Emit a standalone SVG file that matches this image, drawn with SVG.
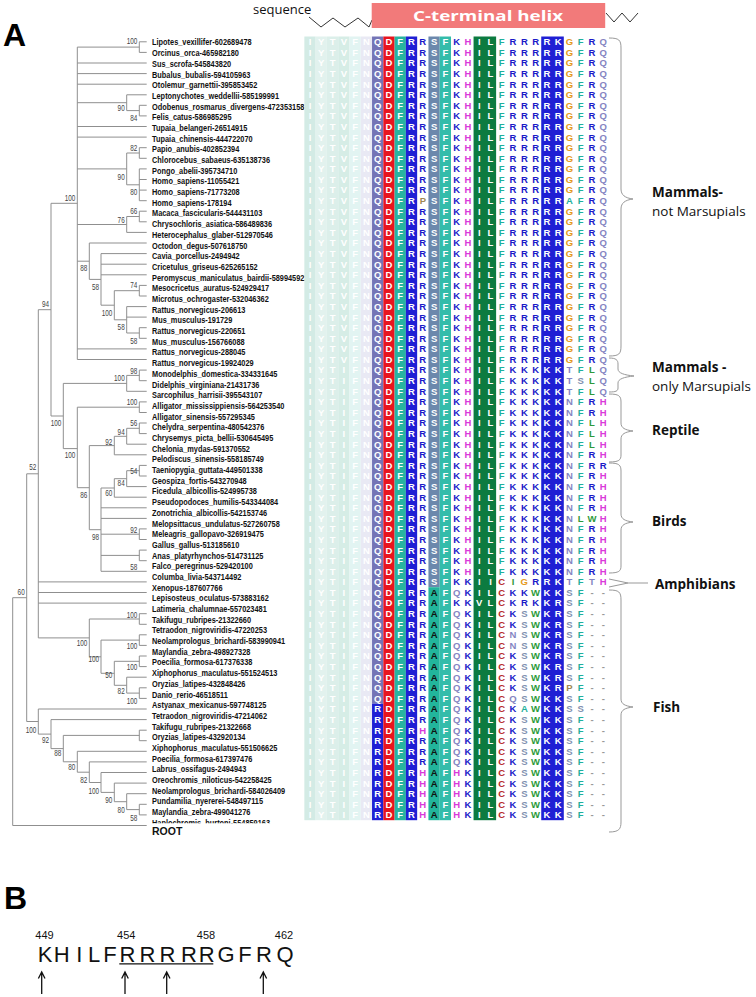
<svg xmlns="http://www.w3.org/2000/svg" width="756" height="997" viewBox="0 0 756 997">
<style>
.lf{font-family:"Liberation Sans",Arial,sans-serif;font-weight:bold;font-size:9px;fill:#111}
.bs{font-family:"Liberation Sans",Arial,sans-serif;font-size:8.5px;fill:#444;text-anchor:end}
.aa{font-family:"Liberation Sans",Arial,sans-serif;font-weight:bold;font-size:9.5px;text-anchor:middle}
.w{fill:#fff}.bl{fill:#1a1ac8}.tl{fill:#1fb09c}.mg{fill:#d93ad9}.og{fill:#e59a1c}.sl{fill:#8585c2}.sg{fill:#7f90b0}.gr{fill:#2e9a3a}.rd{fill:#b52a2a}.br{fill:#a08850}.gy{fill:#999}.bk{fill:#111}
.br2{fill:none;stroke:#999;stroke-width:1}
.gl{font-family:"Open Sans","Liberation Sans",sans-serif;font-size:13.5px;fill:#111}
.tree{fill:none;stroke:#8f8f8f;stroke-width:1}
</style>
<defs>
<clipPath id="clipH"><rect x="0" y="0" width="756" height="823.3"/></clipPath>
<text id="T1" class="aa" x="310 321.28 332.56 343.84 355.12 366.4 377.68 388.96 400.24 411.52 422.8 434.08 445.36 456.64 467.92 479.2 490.48 501.76 513.04 524.32 535.6 546.88 558.16 569.44 580.72 592 603.28"><tspan class="w">IYTVFNQDFR</tspan><tspan class="bl">R</tspan><tspan class="w">SF</tspan><tspan class="bl">K</tspan><tspan class="mg">H</tspan><tspan class="w">IL</tspan><tspan class="tl">F</tspan><tspan class="bl">RRR</tspan><tspan class="w">RK</tspan><tspan class="og">G</tspan><tspan class="tl">F</tspan><tspan class="bl">R</tspan><tspan class="sl">Q</tspan></text>
<text id="TM" class="aa" x="310 321.28 332.56 343.84 355.12 366.4 377.68 388.96 400.24 411.52 422.8 434.08 445.36 456.64 467.92 479.2 490.48 501.76 513.04 524.32 535.6 546.88 558.16 569.44 580.72 592 603.28"><tspan class="w">IYTVFNQDFR</tspan><tspan class="bl">R</tspan><tspan class="w">SF</tspan><tspan class="bl">K</tspan><tspan class="mg">H</tspan><tspan class="w">IL</tspan><tspan class="tl">F</tspan><tspan class="bl">RRR</tspan><tspan class="w">RR</tspan><tspan class="og">G</tspan><tspan class="tl">F</tspan><tspan class="bl">R</tspan><tspan class="sl">Q</tspan></text>
<text id="T16" class="aa" x="310 321.28 332.56 343.84 355.12 366.4 377.68 388.96 400.24 411.52 422.8 434.08 445.36 456.64 467.92 479.2 490.48 501.76 513.04 524.32 535.6 546.88 558.16 569.44 580.72 592 603.28"><tspan class="w">IYTVFNQDFR</tspan><tspan class="br">P</tspan><tspan class="w">SF</tspan><tspan class="bl">K</tspan><tspan class="mg">H</tspan><tspan class="w">IL</tspan><tspan class="tl">F</tspan><tspan class="bl">RRR</tspan><tspan class="w">RR</tspan><tspan class="tl">AF</tspan><tspan class="bl">R</tspan><tspan class="sl">Q</tspan></text>
<text id="TK" class="aa" x="310 321.28 332.56 343.84 355.12 366.4 377.68 388.96 400.24 411.52 422.8 434.08 445.36 456.64 467.92 479.2 490.48 501.76 513.04 524.32 535.6 546.88 558.16 569.44 580.72 592 603.28"><tspan class="w">IYTIFNQDFR</tspan><tspan class="bl">R</tspan><tspan class="w">SF</tspan><tspan class="bl">K</tspan><tspan class="mg">H</tspan><tspan class="w">IL</tspan><tspan class="tl">F</tspan><tspan class="bl">KKK</tspan><tspan class="w">KK</tspan><tspan class="sl">T</tspan><tspan class="tl">F</tspan><tspan class="gr">L</tspan><tspan class="sl">Q</tspan></text>
<text id="TK2" class="aa" x="310 321.28 332.56 343.84 355.12 366.4 377.68 388.96 400.24 411.52 422.8 434.08 445.36 456.64 467.92 479.2 490.48 501.76 513.04 524.32 535.6 546.88 558.16 569.44 580.72 592 603.28"><tspan class="w">IYTIFNQDFR</tspan><tspan class="bl">R</tspan><tspan class="w">SF</tspan><tspan class="bl">K</tspan><tspan class="mg">H</tspan><tspan class="w">IL</tspan><tspan class="tl">F</tspan><tspan class="bl">KKK</tspan><tspan class="w">KK</tspan><tspan class="sl">T</tspan><tspan class="sg">S</tspan><tspan class="gr">L</tspan><tspan class="sl">Q</tspan></text>
<text id="TR" class="aa" x="310 321.28 332.56 343.84 355.12 366.4 377.68 388.96 400.24 411.52 422.8 434.08 445.36 456.64 467.92 479.2 490.48 501.76 513.04 524.32 535.6 546.88 558.16 569.44 580.72 592 603.28"><tspan class="w">IYTIFNQDFR</tspan><tspan class="bl">R</tspan><tspan class="w">SF</tspan><tspan class="bl">K</tspan><tspan class="mg">H</tspan><tspan class="w">IL</tspan><tspan class="tl">F</tspan><tspan class="bl">KKK</tspan><tspan class="w">KK</tspan><tspan class="sl">N</tspan><tspan class="tl">F</tspan><tspan class="bl">R</tspan><tspan class="mg">H</tspan></text>
<text id="TL" class="aa" x="310 321.28 332.56 343.84 355.12 366.4 377.68 388.96 400.24 411.52 422.8 434.08 445.36 456.64 467.92 479.2 490.48 501.76 513.04 524.32 535.6 546.88 558.16 569.44 580.72 592 603.28"><tspan class="w">IYTIFNQDFR</tspan><tspan class="bl">R</tspan><tspan class="w">SF</tspan><tspan class="bl">K</tspan><tspan class="mg">H</tspan><tspan class="w">IL</tspan><tspan class="tl">F</tspan><tspan class="bl">KKK</tspan><tspan class="w">KK</tspan><tspan class="sl">N</tspan><tspan class="tl">F</tspan><tspan class="gr">L</tspan><tspan class="mg">H</tspan></text>
<text id="TRR" class="aa" x="310 321.28 332.56 343.84 355.12 366.4 377.68 388.96 400.24 411.52 422.8 434.08 445.36 456.64 467.92 479.2 490.48 501.76 513.04 524.32 535.6 546.88 558.16 569.44 580.72 592 603.28"><tspan class="w">IYTIFNQDFR</tspan><tspan class="bl">R</tspan><tspan class="w">SF</tspan><tspan class="bl">K</tspan><tspan class="mg">H</tspan><tspan class="w">IL</tspan><tspan class="tl">F</tspan><tspan class="bl">KKK</tspan><tspan class="w">KK</tspan><tspan class="sl">N</tspan><tspan class="tl">F</tspan><tspan class="bl">RR</tspan></text>
<text id="TW" class="aa" x="310 321.28 332.56 343.84 355.12 366.4 377.68 388.96 400.24 411.52 422.8 434.08 445.36 456.64 467.92 479.2 490.48 501.76 513.04 524.32 535.6 546.88 558.16 569.44 580.72 592 603.28"><tspan class="w">IYTIFNQDFR</tspan><tspan class="bl">R</tspan><tspan class="w">SF</tspan><tspan class="bl">K</tspan><tspan class="mg">H</tspan><tspan class="w">IL</tspan><tspan class="tl">F</tspan><tspan class="bl">KKK</tspan><tspan class="w">KK</tspan><tspan class="sl">N</tspan><tspan class="gr">LW</tspan><tspan class="mg">H</tspan></text>
<text id="TA" class="aa" x="310 321.28 332.56 343.84 355.12 366.4 377.68 388.96 400.24 411.52 422.8 434.08 445.36 456.64 467.92 479.2 490.48 501.76 513.04 524.32 535.6 546.88 558.16 569.44 580.72 592 603.28"><tspan class="w">IYTIFNQDFR</tspan><tspan class="bl">R</tspan><tspan class="w">SF</tspan><tspan class="bl">KK</tspan><tspan class="w">II</tspan><tspan class="rd">C</tspan><tspan class="gr">I</tspan><tspan class="og">G</tspan><tspan class="bl">R</tspan><tspan class="w">RK</tspan><tspan class="sl">T</tspan><tspan class="tl">F</tspan><tspan class="sl">T</tspan><tspan class="mg">H</tspan></text>
<text id="F53" class="aa" x="310 321.28 332.56 343.84 355.12 366.4 377.68 388.96 400.24 411.52 422.8 434.08 445.36 456.64 467.92 479.2 490.48 501.76 513.04 524.32 535.6 546.88 558.16 569.44 580.72 592 603.28"><tspan class="w">IYTIFNQDFR</tspan><tspan class="bl">R</tspan><tspan class="bk">A</tspan><tspan class="w">F</tspan><tspan class="sl">Q</tspan><tspan class="bl">K</tspan><tspan class="w">IL</tspan><tspan class="rd">C</tspan><tspan class="bl">KK</tspan><tspan class="gr">W</tspan><tspan class="w">KK</tspan><tspan class="sg">S</tspan><tspan class="tl">F</tspan><tspan class="gy">--</tspan></text>
<text id="F54" class="aa" x="310 321.28 332.56 343.84 355.12 366.4 377.68 388.96 400.24 411.52 422.8 434.08 445.36 456.64 467.92 479.2 490.48 501.76 513.04 524.32 535.6 546.88 558.16 569.44 580.72 592 603.28"><tspan class="w">IYTIFNQDFR</tspan><tspan class="bl">R</tspan><tspan class="bk">A</tspan><tspan class="w">F</tspan><tspan class="bl">KK</tspan><tspan class="w">VL</tspan><tspan class="rd">C</tspan><tspan class="bl">KRK</tspan><tspan class="w">KR</tspan><tspan class="sg">S</tspan><tspan class="tl">F</tspan><tspan class="gy">--</tspan></text>
<text id="F55" class="aa" x="310 321.28 332.56 343.84 355.12 366.4 377.68 388.96 400.24 411.52 422.8 434.08 445.36 456.64 467.92 479.2 490.48 501.76 513.04 524.32 535.6 546.88 558.16 569.44 580.72 592 603.28"><tspan class="w">IYTIFNQDFR</tspan><tspan class="bl">R</tspan><tspan class="bk">A</tspan><tspan class="w">F</tspan><tspan class="sl">Q</tspan><tspan class="bl">K</tspan><tspan class="w">IL</tspan><tspan class="rd">C</tspan><tspan class="bl">K</tspan><tspan class="sg">S</tspan><tspan class="gr">W</tspan><tspan class="w">KR</tspan><tspan class="sg">S</tspan><tspan class="tl">F</tspan><tspan class="gy">--</tspan></text>
<text id="F57" class="aa" x="310 321.28 332.56 343.84 355.12 366.4 377.68 388.96 400.24 411.52 422.8 434.08 445.36 456.64 467.92 479.2 490.48 501.76 513.04 524.32 535.6 546.88 558.16 569.44 580.72 592 603.28"><tspan class="w">IYTIFNQDFR</tspan><tspan class="bl">R</tspan><tspan class="bk">A</tspan><tspan class="w">F</tspan><tspan class="sl">Q</tspan><tspan class="bl">K</tspan><tspan class="w">IL</tspan><tspan class="rd">C</tspan><tspan class="sl">N</tspan><tspan class="sg">S</tspan><tspan class="gr">W</tspan><tspan class="w">KR</tspan><tspan class="sg">S</tspan><tspan class="tl">F</tspan><tspan class="gy">--</tspan></text>
<text id="F62" class="aa" x="310 321.28 332.56 343.84 355.12 366.4 377.68 388.96 400.24 411.52 422.8 434.08 445.36 456.64 467.92 479.2 490.48 501.76 513.04 524.32 535.6 546.88 558.16 569.44 580.72 592 603.28"><tspan class="w">IYTIFNQDFR</tspan><tspan class="bl">R</tspan><tspan class="bk">A</tspan><tspan class="w">F</tspan><tspan class="sl">Q</tspan><tspan class="bl">K</tspan><tspan class="w">IL</tspan><tspan class="rd">C</tspan><tspan class="bl">K</tspan><tspan class="sg">S</tspan><tspan class="gr">W</tspan><tspan class="w">KR</tspan><tspan class="br">P</tspan><tspan class="tl">F</tspan><tspan class="gy">--</tspan></text>
<text id="F63" class="aa" x="310 321.28 332.56 343.84 355.12 366.4 377.68 388.96 400.24 411.52 422.8 434.08 445.36 456.64 467.92 479.2 490.48 501.76 513.04 524.32 535.6 546.88 558.16 569.44 580.72 592 603.28"><tspan class="w">IYTIFNQDFR</tspan><tspan class="bl">R</tspan><tspan class="bk">A</tspan><tspan class="w">F</tspan><tspan class="sl">Q</tspan><tspan class="bl">K</tspan><tspan class="w">IL</tspan><tspan class="rd">C</tspan><tspan class="sl">Q</tspan><tspan class="sg">S</tspan><tspan class="gr">W</tspan><tspan class="w">KK</tspan><tspan class="sg">S</tspan><tspan class="tl">F</tspan><tspan class="gy">--</tspan></text>
<text id="F64" class="aa" x="310 321.28 332.56 343.84 355.12 366.4 377.68 388.96 400.24 411.52 422.8 434.08 445.36 456.64 467.92 479.2 490.48 501.76 513.04 524.32 535.6 546.88 558.16 569.44 580.72 592 603.28"><tspan class="w">IYTIFNRDFR</tspan><tspan class="bl">R</tspan><tspan class="bk">A</tspan><tspan class="w">F</tspan><tspan class="sl">Q</tspan><tspan class="bl">K</tspan><tspan class="w">IL</tspan><tspan class="rd">C</tspan><tspan class="bl">K</tspan><tspan class="tl">A</tspan><tspan class="gr">W</tspan><tspan class="w">KK</tspan><tspan class="sg">SS</tspan><tspan class="gy">--</tspan></text>
<text id="F65" class="aa" x="310 321.28 332.56 343.84 355.12 366.4 377.68 388.96 400.24 411.52 422.8 434.08 445.36 456.64 467.92 479.2 490.48 501.76 513.04 524.32 535.6 546.88 558.16 569.44 580.72 592 603.28"><tspan class="w">IYTIFNRDFR</tspan><tspan class="bl">R</tspan><tspan class="bk">A</tspan><tspan class="w">F</tspan><tspan class="sl">Q</tspan><tspan class="bl">K</tspan><tspan class="w">IL</tspan><tspan class="rd">C</tspan><tspan class="bl">K</tspan><tspan class="sg">S</tspan><tspan class="gr">W</tspan><tspan class="w">KK</tspan><tspan class="sg">S</tspan><tspan class="tl">F</tspan><tspan class="gy">--</tspan></text>
<text id="F66" class="aa" x="310 321.28 332.56 343.84 355.12 366.4 377.68 388.96 400.24 411.52 422.8 434.08 445.36 456.64 467.92 479.2 490.48 501.76 513.04 524.32 535.6 546.88 558.16 569.44 580.72 592 603.28"><tspan class="w">IYTIFNRDFR</tspan><tspan class="mg">H</tspan><tspan class="bk">A</tspan><tspan class="w">F</tspan><tspan class="sl">Q</tspan><tspan class="bl">K</tspan><tspan class="w">IL</tspan><tspan class="rd">C</tspan><tspan class="bl">K</tspan><tspan class="sg">S</tspan><tspan class="gr">W</tspan><tspan class="w">KK</tspan><tspan class="sg">S</tspan><tspan class="tl">F</tspan><tspan class="gy">--</tspan></text>
<text id="F70" class="aa" x="310 321.28 332.56 343.84 355.12 366.4 377.68 388.96 400.24 411.52 422.8 434.08 445.36 456.64 467.92 479.2 490.48 501.76 513.04 524.32 535.6 546.88 558.16 569.44 580.72 592 603.28"><tspan class="w">IYTIFNRDFR</tspan><tspan class="mg">H</tspan><tspan class="bk">A</tspan><tspan class="w">F</tspan><tspan class="mg">H</tspan><tspan class="bl">K</tspan><tspan class="w">IL</tspan><tspan class="rd">C</tspan><tspan class="bl">K</tspan><tspan class="sg">S</tspan><tspan class="gr">W</tspan><tspan class="w">KK</tspan><tspan class="sg">S</tspan><tspan class="tl">F</tspan><tspan class="gy">--</tspan></text>
</defs>
<rect width="756" height="997" fill="#fff"/>

<g id="panel-labels" font-family="Liberation Sans,Arial,sans-serif" font-weight="bold" font-size="32" fill="#000">
<text x="3" y="46">A</text>
<text x="4" y="909">B</text>
</g>

<g id="header">
<text x="253" y="14" font-family="Open Sans,Liberation Sans,sans-serif" font-size="13" fill="#111">sequence</text>
<polyline points="309,17 321,27 333,18 345,27 358,18 369,27 372,20" fill="none" stroke="#333" stroke-width="1"/>
<rect x="371.7" y="3" width="233.5" height="25" fill="#f27a7a"/>
<text x="488" y="21" text-anchor="middle" font-family="Open Sans,Liberation Sans,sans-serif" font-weight="bold" font-size="14.5" fill="#fff" textLength="150" lengthAdjust="spacingAndGlyphs">C-terminal helix</text>
<polyline points="606,13 614,22 622,13 630,22 638,13" fill="none" stroke="#333" stroke-width="1"/>
</g>

<g id="connectors" class="tree">
<path d="M12.7,597.7V825.5H146.7M12.7,597.7H26.7M26.7,473.8V721.5M26.7,721.5H38.3M26.7,473.8H38.3
M38.3,309.7V637.9M38.3,309.7H51M38.3,581.9H146.7M38.3,592.5H146.7M38.3,603.1H146.7M38.3,637.9H89.3
M51,203.3V416M51,203.3H77.3M51,416H63.3
M77.3,47.1V359.5M77.3,47.1H139.3M146.7,41.8H139.3V52.4H146.7
M77.3,63H146.7M77.3,73.6H146.7M77.3,84.2H146.7
M77.3,102.7H126.7M146.7,94.8H126.7V110.6H139.3M146.7,105.3H139.3V115.9H146.7
M77.3,126.5H146.7M77.3,137.1H146.7
M77.3,168.9H126.7M139.3,153H126.7V184.8H139.3M146.7,147.7H139.3V158.3H146.7M146.7,168.9H139.3V200.7H146.7M139.3,179.5H146.7M139.3,190.1H146.7
M77.3,224.5H126.7M139.3,216.5H126.7V232.4H146.7M146.7,211.2H139.3V221.8H146.7
M77.3,261.2H89.3M146.7,243H89.3V279.4H101M146.7,253.6H101V305.2H114.3M101,264.2H146.7M101,274.8H146.7
M139.3,290.7H114.3V319.8H126.7M146.7,285.4H139.3V296H146.7M146.7,306.6H126.7V333H139.3M126.7,317.1H146.7M146.7,327.7H139.3V338.3H146.7
M77.3,348.9H146.7M77.3,359.5H146.7
M126.7,383.4H63.3V448.6H77.3M139.3,375.4H126.7V391.3H146.7M146.7,370.1H139.3V380.7H146.7
M139.3,407.2H77.3V487.7H89.3M146.7,401.9H139.3V412.5H146.7
M114.3,445.6H89.3V529.7H101
M126.7,436.3H114.3V454.8H146.7M139.3,428.3H126.7V444.2H146.7M146.7,423H139.3V433.6H146.7
M114.3,488H101V571.3H146.7M101,507.8H146.7M101,518.4H146.7M101,534.2H139.3M101,555.4H139.3
M146.7,528.9H139.3V539.5H146.7M146.7,550.1H139.3V560.7H146.7
M126.7,478.7H114.3V497.2H146.7M139.3,470.7H126.7V486.6H146.7M146.7,465.4H139.3V476H146.7
M139.3,619H89.3V656.8H101M146.7,613.7H139.3V624.3H146.7
M139.3,640.1H101V673.3H114.3M146.7,634.8H139.3V645.4H146.7
M139.3,661.3H114.3V685.3H126.7M146.7,656H139.3V666.6H146.7
M146.7,677.2H126.7V693.1H139.3M146.7,687.8H139.3V698.4H146.7
M146.7,709H38.3V734.1H51M146.7,719.6H51V748.6H63.3
M139.3,735.4H63.3V761.8H77.3M146.7,730.2H139.3V740.7H146.7
M146.7,751.3H77.3V772.2H89.3M146.7,761.9H89.3V782.5H101M146.7,772.5H101V792.4H114.3
M146.7,783.1H114.3V801.7H126.7M146.7,793.7H126.7V809.6H139.3M146.7,804.3H139.3V814.9H146.7"/>
</g>

<g id="bootstrap" class="bs" transform="scale(0.75,1)">
<text x="183.07" y="44.5">100</text><text x="166.27" y="111">90</text><text x="183.07" y="121">84</text><text x="183.07" y="150.7">82</text>
<text x="166.27" y="179.7">90</text><text x="183.07" y="195.3">80</text><text x="100.4" y="201.3">100</text><text x="183.07" y="213.7">66</text>
<text x="166.27" y="223">76</text><text x="116.4" y="271.3">88</text><text x="132" y="290.3">58</text><text x="183.07" y="288">74</text>
<text x="65.33" y="307.3">94</text><text x="149.73" y="316.3">100</text><text x="166.27" y="330.3">58</text><text x="183.07" y="343.7">58</text>
<text x="183.07" y="374">98</text><text x="166.27" y="380.7">100</text><text x="183.07" y="405.3">100</text><text x="81.73" y="426.3">100</text>
<text x="183.07" y="426.3">56</text><text x="166.27" y="435">94</text><text x="149.73" y="444.7">92</text><text x="100.4" y="458">100</text>
<text x="48.4" y="470.3">52</text><text x="183.07" y="474">54</text><text x="166.27" y="485.7">84</text><text x="149.73" y="496.3">60</text>
<text x="116.4" y="498">86</text><text x="183.07" y="533">92</text><text x="132" y="540.3">98</text><text x="183.07" y="569.7">58</text>
<text x="32.93" y="594.7">60</text><text x="183.07" y="618">100</text><text x="116.4" y="646.3">100</text><text x="183.07" y="649">100</text>
<text x="132" y="662">100</text><text x="183.07" y="670.3">100</text><text x="149.73" y="678">50</text><text x="166.27" y="694">82</text>
<text x="183.07" y="704">100</text><text x="48.4" y="733">100</text><text x="65.33" y="743">92</text><text x="81.73" y="756.3">88</text>
<text x="100.4" y="769.7">80</text><text x="116.4" y="783">82</text><text x="132" y="793.7">100</text><text x="149.73" y="803">90</text>
<text x="166.27" y="813">80</text><text x="183.07" y="821.3">58</text>
</g>

<g id="leaves" class="lf" transform="scale(0.82,1)">
<text id="n1" x="185.4" y="45.5">Lipotes_vexillifer-602689478</text>
<text id="n2" x="185.4" y="56.2">Orcinus_orca-465982180</text>
<text id="n3" x="185.4" y="66.9">Sus_scrofa-545843820</text>
<text id="n4" x="185.4" y="77.6">Bubalus_bubalis-594105963</text>
<text id="n5" x="185.4" y="88.3">Otolemur_garnettii-395853452</text>
<text id="n6" x="185.4" y="99">Leptonychotes_weddellii-585199991</text>
<text id="n7" x="185.4" y="109.6">Odobenus_rosmarus_divergens-472353158</text>
<text id="n8" x="185.4" y="120.3">Felis_catus-586985295</text>
<text id="n9" x="185.4" y="131">Tupaia_belangeri-26514915</text>
<text id="n10" x="185.4" y="141.7">Tupaia_chinensis-444722070</text>
<text id="n11" x="185.4" y="152.4">Papio_anubis-402852394</text>
<text id="n12" x="185.4" y="163.1">Chlorocebus_sabaeus-635138736</text>
<text id="n13" x="185.4" y="173.8">Pongo_abelii-395734710</text>
<text id="n14" x="185.4" y="184.5">Homo_sapiens-11055421</text>
<text id="n15" x="185.4" y="195.2">Homo_sapiens-71773208</text>
<text id="n16" x="185.4" y="205.9">Homo_sapiens-178194</text>
<text id="n17" x="185.4" y="216.5">Macaca_fascicularis-544431103</text>
<text id="n18" x="185.4" y="227.2">Chrysochloris_asiatica-586489836</text>
<text id="n19" x="185.4" y="237.9">Heterocephalus_glaber-512970546</text>
<text id="n20" x="185.4" y="248.6">Octodon_degus-507618750</text>
<text id="n21" x="185.4" y="259.3">Cavia_porcellus-2494942</text>
<text id="n22" x="185.4" y="270">Cricetulus_griseus-625265152</text>
<text id="n23" x="185.4" y="280.7">Peromyscus_maniculatus_bairdii-589945922</text>
<text id="n24" x="185.4" y="291.4">Mesocricetus_auratus-524929417</text>
<text id="n25" x="185.4" y="302.1">Microtus_ochrogaster-532046362</text>
<text id="n26" x="185.4" y="312.8">Rattus_norvegicus-206613</text>
<text id="n27" x="185.4" y="323.4">Mus_musculus-191729</text>
<text id="n28" x="185.4" y="334.1">Rattus_norvegicus-220651</text>
<text id="n29" x="185.4" y="344.8">Mus_musculus-156766088</text>
<text id="n30" x="185.4" y="355.5">Rattus_norvegicus-288045</text>
<text id="n31" x="185.4" y="366.2">Rattus_norvegicus-19924029</text>
<text id="n32" x="185.4" y="376.9">Monodelphis_domestica-334331645</text>
<text id="n33" x="185.4" y="387.6">Didelphis_virginiana-21431736</text>
<text id="n34" x="185.4" y="398.3">Sarcophilus_harrisii-395543107</text>
<text id="n35" x="185.4" y="409">Alligator_mississippiensis-564253540</text>
<text id="n36" x="185.4" y="419.7">Alligator_sinensis-557295345</text>
<text id="n37" x="185.4" y="430.3">Chelydra_serpentina-480542376</text>
<text id="n38" x="185.4" y="441">Chrysemys_picta_bellii-530645495</text>
<text id="n39" x="185.4" y="451.7">Chelonia_mydas-591370552</text>
<text id="n40" x="185.4" y="462.4">Pelodiscus_sinensis-558185749</text>
<text id="n41" x="185.4" y="473.1">Taeniopygia_guttata-449501338</text>
<text id="n42" x="185.4" y="483.8">Geospiza_fortis-543270948</text>
<text id="n43" x="185.4" y="494.5">Ficedula_albicollis-524995738</text>
<text id="n44" x="185.4" y="505.2">Pseudopodoces_humilis-543344084</text>
<text id="n45" x="185.4" y="515.9">Zonotrichia_albicollis-542153746</text>
<text id="n46" x="185.4" y="526.6">Melopsittacus_undulatus-527260758</text>
<text id="n47" x="185.4" y="537.2">Meleagris_gallopavo-326919475</text>
<text id="n48" x="185.4" y="547.9">Gallus_gallus-513185610</text>
<text id="n49" x="185.4" y="558.6">Anas_platyrhynchos-514731125</text>
<text id="n50" x="185.4" y="569.3">Falco_peregrinus-529420100</text>
<text id="n51" x="185.4" y="580">Columba_livia-543714492</text>
<text id="n52" x="185.4" y="590.7">Xenopus-187607766</text>
<text id="n53" x="185.4" y="601.4">Lepisosteus_oculatus-573883162</text>
<text id="n54" x="185.4" y="612.1">Latimeria_chalumnae-557023481</text>
<text id="n55" x="185.4" y="622.8">Takifugu_rubripes-21322660</text>
<text id="n56" x="185.4" y="633.5">Tetraodon_nigroviridis-47220253</text>
<text id="n57" x="185.4" y="644.1">Neolamprologus_brichardi-583990941</text>
<text id="n58" x="185.4" y="654.8">Maylandia_zebra-498927328</text>
<text id="n59" x="185.4" y="665.5">Poecilia_formosa-617376338</text>
<text id="n60" x="185.4" y="676.2">Xiphophorus_maculatus-551524513</text>
<text id="n61" x="185.4" y="686.9">Oryzias_latipes-432848426</text>
<text id="n62" x="185.4" y="697.6">Danio_rerio-46518511</text>
<text id="n63" x="185.4" y="708.3">Astyanax_mexicanus-597748125</text>
<text id="n64" x="185.4" y="719">Tetraodon_nigroviridis-47214062</text>
<text id="n65" x="185.4" y="729.7">Takifugu_rubripes-21322668</text>
<text id="n66" x="185.4" y="740.4">Oryzias_latipes-432920134</text>
<text id="n67" x="185.4" y="751">Xiphophorus_maculatus-551506625</text>
<text id="n68" x="185.4" y="761.7">Poecilia_formosa-617397476</text>
<text id="n69" x="185.4" y="772.4">Labrus_ossifagus-2494943</text>
<text id="n70" x="185.4" y="783.1">Oreochromis_niloticus-542258425</text>
<text id="n71" x="185.4" y="793.8">Neolamprologus_brichardi-584026409</text>
<text id="n72" x="185.4" y="804.5">Pundamilia_nyererei-548497115</text>
<text id="n73" x="185.4" y="815.2">Maylandia_zebra-499041276</text>
<text id="n74" x="185.4" y="825.9" clip-path="url(#clipH)">Haplochromis_burtoni-554859163</text>
</g>
<g id="root-label"><text x="152" y="835" font-family="Liberation Sans,Arial,sans-serif" font-weight="bold" font-size="10.5" fill="#111">ROOT</text></g>

<g id="alignment-bg">
<rect x="304.36" y="36.5" width="11.28" height="783.7" fill="#d3ebe5"/>
<rect x="315.64" y="36.5" width="11.28" height="783.7" fill="#e2f2ee"/>
<rect x="326.92" y="36.5" width="11.28" height="783.7" fill="#dcefea"/>
<rect x="338.2" y="36.5" width="11.28" height="783.7" fill="#d6ede6"/>
<rect x="349.48" y="36.5" width="11.28" height="783.7" fill="#e2f4f2"/>
<rect x="360.76" y="36.5" width="11.28" height="783.7" fill="#e9e9f4"/>
<rect x="372.04" y="36.5" width="11.28" height="667.2" fill="#7474b6"/>
<rect x="372.04" y="703.7" width="11.28" height="116.5" fill="#1f1fd4"/>
<rect x="383.32" y="36.5" width="11.28" height="783.7" fill="#e8141e"/>
<rect x="394.6" y="36.5" width="11.28" height="783.7" fill="#28b4a0"/>
<rect x="405.88" y="36.5" width="11.28" height="783.7" fill="#1f1fd4"/>
<rect x="428.44" y="36.5" width="11.28" height="550.7" fill="#6c88ac"/>
<rect x="428.44" y="587.2" width="11.28" height="233" fill="#22b59c"/>
<rect x="439.72" y="36.5" width="11.28" height="783.7" fill="#34bcaa"/>
<rect x="473.56" y="36.5" width="22.56" height="783.7" fill="#0c7b40"/>
<rect x="541.24" y="36.5" width="22.56" height="783.7" fill="#1f1fd4"/>
</g>

<g id="alignment-text">
<use href="#T1" y="45.2"/>
<use href="#TM" y="55.79"/><use href="#TM" y="66.38"/><use href="#TM" y="76.97"/><use href="#TM" y="87.56"/><use href="#TM" y="98.15"/><use href="#TM" y="108.74"/><use href="#TM" y="119.33"/><use href="#TM" y="129.92"/><use href="#TM" y="140.51"/><use href="#TM" y="151.1"/><use href="#TM" y="161.69"/><use href="#TM" y="172.28"/><use href="#TM" y="182.87"/><use href="#TM" y="193.46"/>
<use href="#T16" y="204.05"/>
<use href="#TM" y="214.64"/><use href="#TM" y="225.23"/><use href="#TM" y="235.82"/><use href="#TM" y="246.41"/><use href="#TM" y="257"/><use href="#TM" y="267.59"/><use href="#TM" y="278.18"/><use href="#TM" y="288.77"/><use href="#TM" y="299.36"/><use href="#TM" y="309.95"/><use href="#TM" y="320.54"/><use href="#TM" y="331.13"/><use href="#TM" y="341.72"/><use href="#TM" y="352.31"/><use href="#TM" y="362.9"/>
<use href="#TK" y="373.49"/><use href="#TK2" y="384.08"/><use href="#TK" y="394.67"/>
<use href="#TR" y="405.26"/><use href="#TR" y="415.85"/><use href="#TL" y="426.44"/><use href="#TL" y="437.03"/><use href="#TL" y="447.62"/><use href="#TR" y="458.21"/>
<use href="#TRR" y="468.8"/><use href="#TR" y="479.39"/><use href="#TR" y="489.98"/><use href="#TR" y="500.57"/><use href="#TR" y="511.16"/><use href="#TW" y="521.75"/><use href="#TR" y="532.34"/><use href="#TR" y="542.93"/><use href="#TR" y="553.52"/><use href="#TR" y="564.11"/><use href="#TR" y="574.7"/>
<use href="#TA" y="585.29"/>
<use href="#F53" y="595.88"/><use href="#F54" y="606.47"/><use href="#F55" y="617.06"/><use href="#F55" y="627.65"/><use href="#F57" y="638.24"/><use href="#F57" y="648.83"/><use href="#F55" y="659.42"/><use href="#F55" y="670.01"/><use href="#F55" y="680.6"/><use href="#F62" y="691.19"/><use href="#F63" y="701.78"/>
<use href="#F64" y="712.37"/><use href="#F65" y="722.96"/><use href="#F66" y="733.55"/><use href="#F65" y="744.14"/><use href="#F65" y="754.73"/><use href="#F65" y="765.32"/><use href="#F70" y="775.91"/><use href="#F70" y="786.5"/><use href="#F70" y="797.09"/><use href="#F70" y="807.68"/><use href="#F70" y="818.27"/>
</g>

<g id="brackets" class="br2">
<path d="M609,38C619,38 621,40 621,48V189C621,195 625,198 633,199C625,200 621,203 621,209V346C621,354 619,356 609,356"/>
<path d="M609,358C616,358 618,360 618,364V369C618,373 624,375 634,376C624,377 618,379 618,383V388C618,391 616,392 609,392"/>
<path d="M609,394C619,394 621,396 621,402V423C621,428 625,430 633,431C625,432 621,434 621,439V455C621,460 619,462 609,462"/>
<path d="M609,463C619,463 621,465 621,471V514C621,519 625,521 633,522C625,523 621,525 621,530V566C621,571 619,573 609,573"/>
<path d="M609,579L628,583L648,583M609,587L628,583"/>
<path d="M609,590C619,590 621,592 621,600V699C621,704 625,706 633,707C625,708 621,710 621,715V822C621,829 619,832 609,832"/>
</g>
<g id="group-labels" class="gl">
<text x="652" y="197" font-weight="bold">Mammals-</text>
<text x="652" y="216">not Marsupials</text>
<text x="652" y="372" font-weight="bold">Mammals -</text>
<text x="652" y="391">only Marsupials</text>
<text x="652" y="435" font-weight="bold">Reptile</text>
<text x="652" y="526" font-weight="bold">Birds</text>
<text x="655" y="589" font-weight="bold">Amphibians</text>
<text x="653" y="712" font-weight="bold">Fish</text>
</g>

<g id="panelB">
<g font-family="Liberation Sans,Arial,sans-serif" font-size="11" fill="#111" text-anchor="middle">
<text x="44.5" y="939">449</text><text x="126.3" y="939">454</text><text x="206" y="939">458</text><text x="284" y="939">462</text>
</g>
<text font-family="Liberation Sans,Arial,sans-serif" font-size="22" fill="#111" text-anchor="middle" x="45 61.7 79.2 94 110 127.5 147.5 167.5 189 206.7 226 245 264 285" y="961.5">KHILFRRRRRGFRQ</text>
<line x1="119.3" y1="963.8" x2="213.3" y2="963.8" stroke="#111" stroke-width="1.3"/>
<g fill="none" stroke="#111" stroke-width="1.3">
<path d="M41.7,972V994M38.4,978.5L41.7,972L45,978.5"/>
<path d="M125,972V994M121.7,978.5L125,972L128.3,978.5"/>
<path d="M166.7,972V994M163.4,978.5L166.7,972L170,978.5"/>
<path d="M263.3,972V994M260,978.5L263.3,972L266.6,978.5"/>
</g>
</g>
</svg>
